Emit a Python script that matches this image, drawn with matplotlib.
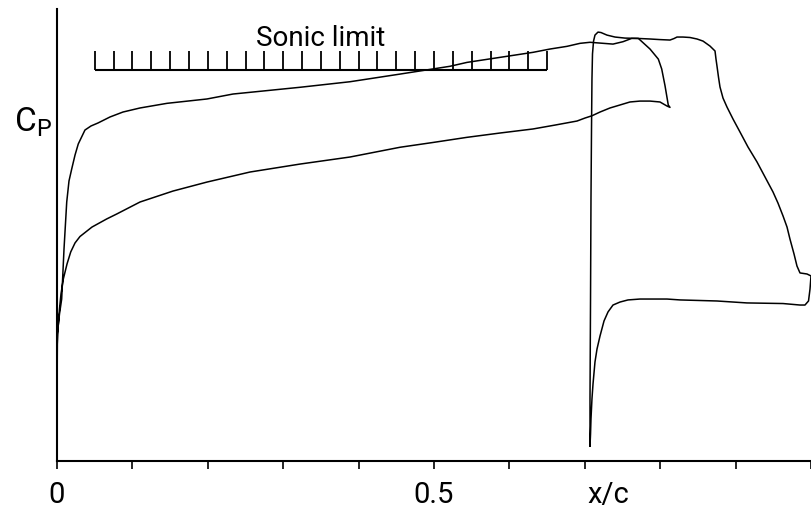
import numpy as np
import matplotlib
matplotlib.use("Agg")
import matplotlib.pyplot as plt
import matplotlib.transforms as mtransforms

plt.rcParams['font.family'] = ['Roboto', 'DejaVu Sans']

# main element, upper surface (LE -> TE, incl. shock)
main_upper_x = [0.000, 0.0004, 0.0033, 0.0062, 0.0093, 0.0129, 0.0159, 0.0195, 0.0239, 0.0282,
                0.0371, 0.0451, 0.0544, 0.0703, 0.0875, 0.1101, 0.1459, 0.1989, 0.2334, 0.3223,
                0.3886, 0.4549, 0.5212, 0.5438, 0.6313, 0.6538, 0.6764, 0.6936, 0.7069, 0.7374,
                0.7507, 0.7622, 0.7710, 0.7865, 0.7975, 0.8020, 0.8064, 0.8107, 0.8130]
main_upper_cp = [1.000, 0.300, 0.167, 0.067, -0.267, -0.580, -0.720, -0.800, -0.893, -0.967,
                 -1.060, -1.087, -1.107, -1.147, -1.180, -1.207, -1.238, -1.267, -1.300, -1.345,
                 -1.382, -1.433, -1.485, -1.511, -1.578, -1.600, -1.618, -1.638, -1.645, -1.633,
                 -1.649, -1.671, -1.671, -1.600, -1.533, -1.467, -1.355, -1.227, -1.211]

# main element, lower surface (TE -> LE)
main_lower_x = [0.8130, 0.8090, 0.7997, 0.7865, 0.7732, 0.7599, 0.7467, 0.7334, 0.7202, 0.7095,
                0.7003, 0.6897, 0.6605, 0.6313, 0.5875, 0.5434, 0.4987, 0.4549, 0.3886, 0.3223,
                0.2560, 0.1989, 0.1538, 0.1101, 0.0792, 0.0659, 0.0464, 0.0305, 0.0239, 0.0182,
                0.0133, 0.0084, 0.0053, 0.0033, 0.0013, 0.0004, 0.000]
main_lower_cp = [-1.211, -1.220, -1.247, -1.253, -1.253, -1.247, -1.227, -1.207, -1.180, -1.155,
                 -1.140, -1.120, -1.093, -1.067, -1.040, -1.011, -0.977, -0.945, -0.880, -0.833,
                 -0.780, -0.713, -0.653, -0.580, -0.500, -0.467, -0.413, -0.350, -0.307, -0.247,
                 -0.167, -0.067, 0.033, 0.133, 0.267, 0.367, 1.000]

# flap, upper surface (LE -> TE)
flap_upper_x = [0.7069, 0.7069, 0.7076, 0.7082, 0.7089, 0.7095, 0.7102, 0.7116, 0.7135, 0.7175,
                0.7215, 0.7294, 0.7401, 0.7533, 0.7692, 0.7865, 0.7997, 0.8130, 0.8183, 0.8223,
                0.8302, 0.8395, 0.8488, 0.8568, 0.8660, 0.8727, 0.8740, 0.8753, 0.8773, 0.8793,
                0.8833, 0.8886, 0.8966, 0.9058, 0.9164, 0.9284, 0.9390, 0.9496, 0.9562, 0.9629,
                0.9682, 0.9721, 0.9775, 0.9814, 0.9854, 0.9907, 0.9947, 1.0000]
flap_upper_cp = [1.047, 0.733, 0.067, -0.600, -1.067, -1.400, -1.567, -1.653, -1.693, -1.713,
                 -1.710, -1.693, -1.680, -1.673, -1.671, -1.667, -1.663, -1.660, -1.670, -1.680,
                 -1.680, -1.677, -1.667, -1.653, -1.620, -1.587, -1.533, -1.487, -1.413, -1.347,
                 -1.273, -1.213, -1.133, -1.047, -0.947, -0.847, -0.747, -0.647, -0.573, -0.487,
                 -0.413, -0.333, -0.233, -0.153, -0.107, -0.103, -0.100, -0.087]

# flap, trailing edge and lower surface (TE -> LE)
flap_lower_x = [0.9987, 0.9967, 0.9920, 0.9854, 0.9629, 0.9151, 0.8753, 0.8263, 0.8090, 0.7732,
                0.7573, 0.7467, 0.7374, 0.7308, 0.7255, 0.7202, 0.7162, 0.7135, 0.7109, 0.7095,
                0.7082, 0.7076, 0.7069]
flap_lower_cp = [0.000, 0.080, 0.107, 0.107, 0.097, 0.093, 0.080, 0.073, 0.067, 0.067,
                 0.073, 0.087, 0.107, 0.153, 0.213, 0.313, 0.400, 0.487, 0.633, 0.733,
                 0.867, 0.967, 1.047]

# sonic limit
cp_sonic = -1.46
sonic_x0, sonic_x1 = 0.05, 0.65
sonic_ticks = np.arange(0.05, 0.651, 0.025)

fig = plt.figure(figsize=(8.11, 5.10), dpi=100)
ax = fig.add_axes([57 / 811, 48 / 510, 754 / 811, 452 / 510])

lw = 1.1
ax.plot(main_upper_x + main_lower_x, main_upper_cp + main_lower_cp, color="black", lw=lw)
ax.plot(flap_upper_x + flap_lower_x, flap_upper_cp + flap_lower_cp, color="black", lw=lw,
        clip_on=False)

ax.hlines(cp_sonic, sonic_x0, sonic_x1, color="black", lw=1.5)
ax.vlines(sonic_ticks, cp_sonic, cp_sonic - 0.127, color="black", lw=1.3)
ax.text(0.35, -1.625, "Sonic limit", ha="center", va="baseline", fontsize=20)

ax.set_xlim(0, 1.0)
ax.set_ylim(1.147, -1.867)

for s in ["top", "right"]:
    ax.spines[s].set_visible(False)
ax.spines["left"].set_linewidth(1.5)
ax.spines["bottom"].set_linewidth(1.5)

ax.set_yticks([])
ax.set_xticks(np.arange(0, 1.01, 0.1))
ax.set_xticklabels(["0", "", "", "", "", "0.5", "", "", "", "", ""])
ax.tick_params(axis="x", direction="out", length=6, width=1.2, pad=8, labelsize=21)

trans = mtransforms.blended_transform_factory(ax.transData, ax.transAxes)
ax.text(0.731, -0.091, "x/c", transform=trans, ha="center", va="baseline", fontsize=21)

fig.text(14 / 811, (510 - 132) / 510, r"$\mathregular{C_P}$", ha="left", va="baseline",
         fontsize=24)

fig.savefig("out.png", dpi=100)
